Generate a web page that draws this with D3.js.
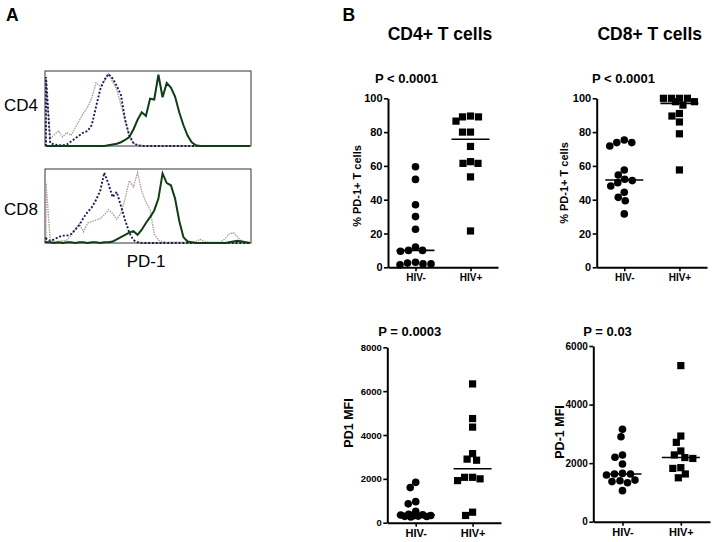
<!DOCTYPE html>
<html><head><meta charset="utf-8">
<script src="https://cdnjs.cloudflare.com/ajax/libs/d3/7.8.5/d3.min.js"></script>
<style>
body{margin:0;background:#fff}
svg{display:block}
text{font-family:Arial,"Liberation Sans",sans-serif;fill:#000}
</style>
</head><body>
<svg id="c" width="714" height="542"></svg>
<script>
// ---------------- DATA ----------------
const groups = ["HIV-", "HIV+"];

// Panel A: PD-1 histograms (relative counts per channel bin, 50 bins)
const cd4Control = [85,10,15,20,12,18,14,24,34,44,52,64,84,80,86,96,86,75,55,35,12,4,1,1,0,0,0,0,0,0,0,0,0,0,0,0,0,0,0,0,0,0,0,0,0,0,0,0,0,0];
const cd4HivNeg  = [92,4,2,1,1,2,6,10,14,18,20,28,52,75,88,96,90,80,68,35,14,4,1,0,0,0,0,0,0,0,0,0,0,0,0,0,0,0,0,0,0,0,0,0,0,0,0,0,0,0];
const cd4HivPos  = [0,0,0,0,0,0,0,0,0,0,0,0,0,0,0,1,2,3,5,8,12,22,35,45,40,63,62,95,65,84,78,66,45,28,14,5,1,0,0,0,0,0,0,0,0,0,0,0,0,0];
const cd8Control = [82,4,2,2,3,4,10,18,26,15,27,29,31,33,38,45,40,32,40,60,84,76,95,70,55,45,12,4,2,1,1,1,1,1,1,1,2,5,2,1,1,1,1,6,12,14,8,3,1,1];
const cd8HivNeg  = [6,3,5,8,10,10,12,18,24,34,42,48,58,70,95,80,62,69,50,31,14,4,1,0,0,0,0,0,0,0,0,0,0,0,0,0,0,0,0,0,0,0,0,0,0,0,0,0,0,0];
const cd8HivPos  = [1,1,0,1,0,1,1,0,1,1,0,1,1,0,1,1,2,5,8,11,14,16,11,18,27,35,44,60,94,81,78,60,30,8,2,1,0,0,0,0,0,0,0,0,1,2,3,2,1,0];

// Panel B: % PD-1+ T cells
const cd4PctNeg = [59.5,52,37,30,22.5,12,10,10,9.5,3,2.5,2,2,1.5];
const cd4PctPos = [89.5,89,89,86.5,80,80,71.5,62.5,61.5,61.5,53.5,21.5];
const cd8PctNeg = [75.3,73.8,73.8,71.8,57.6,54.6,52.1,51.3,50.1,48.1,44.4,41.4,39.4,31.6];
const cd8PctPos = [100,100,100,100,98,98,96,91,89.5,86,79,57.6];
// Panel B: PD-1 MFI
const cd4MfiNeg = [1840,1600,960,860,520,380,360,350,330,320,300,290,280,260];
const cd4MfiPos = [6330,4750,4360,3150,2900,2850,2070,2070,2000,1920,480,330];
const cd8MfiNeg = [3155,2900,2280,2200,1970,1650,1630,1630,1595,1420,1400,1370,1330,1060];
const cd8MfiPos = [5330,2925,2710,2415,2280,2190,2160,1845,1820,1630,1500];

const pctTicks = [0,20,40,60,80,100];
const cd4MfiTicks = [0,2000,4000,6000,8000];
const cd8MfiTicks = [0,2000,4000,6000];

// ---------------- DRAW ----------------
const svg = d3.select("#c");
const FONT = "Arial, 'Liberation Sans', sans-serif";

// Panel letters
svg.append("text").attr("x",6).attr("y",20.7).attr("font-size",17.5).attr("font-weight","bold").text("A");
svg.append("text").attr("x",342.5).attr("y",20.5).attr("font-size",17.5).attr("font-weight","bold").text("B");

// Histograms
function histogram(top, bottom, ctrl, neg, pos, label, labelY) {
  const g = svg.append("g");
  const x = d3.scaleLinear().domain([0, ctrl.length - 1]).range([46, 250]);
  const y = d3.scaleLinear().domain([0, 100]).range([bottom, top]);
  g.append("rect").attr("x",45).attr("y",top).attr("width",206).attr("height",bottom-top)
    .attr("fill","none").attr("stroke","#333").attr("stroke-width",1);
  const line = d3.line().x(d => x(d[0])).y(d => y(d[1]));
  const pts = arr => [[0,0]].concat(arr.map((v,i) => [i,v]));
  g.append("path").attr("d", line(pts(ctrl))).attr("fill","none")
    .attr("stroke","#b39c9c").attr("stroke-width",1.4).attr("stroke-dasharray","1.5,1");
  g.append("path").attr("d", line(pts(neg))).attr("fill","none")
    .attr("stroke","#1c1c55").attr("stroke-width",1.9).attr("stroke-dasharray","2,1.8");
  g.append("path").attr("d", line(pts(pos))).attr("fill","none")
    .attr("stroke","#0f3d14").attr("stroke-width",2);
  svg.append("text").attr("x",4).attr("y",labelY).attr("font-size",17).text(label);
}
histogram(71, 146, cd4Control, cd4HivNeg, cd4HivPos, "CD4", 110.7);
histogram(169, 243, cd8Control, cd8HivNeg, cd8HivPos, "CD8", 215);
svg.append("text").attr("x",146).attr("y",266.7).attr("text-anchor","middle").attr("font-size",17).text("PD-1");

// Column titles
svg.append("text").attr("x",440).attr("y",40).attr("text-anchor","middle").attr("font-size",17.5).attr("font-weight","bold").text("CD4+ T cells");
svg.append("text").attr("x",649.7).attr("y",40).attr("text-anchor","middle").attr("font-size",17.5).attr("font-weight","bold").text("CD8+ T cells");

// deterministic dot-plot spreading (capped beeswarm)
function swarm(vals, cx, y, diam, cap) {
  const placed = [];
  const order = vals.map((v,i)=>({v,i})).sort((a,b)=>b.v-a.v);
  const cands = [0];
  for (let s=1; s*0.5<=cap; s++) { cands.push(-s*0.5, s*0.5); }
  order.forEach(p => {
    const py = y(p.v);
    let best = null, bestD = -1;
    for (const dx of cands) {
      const dmin = placed.length ? d3.min(placed, q => Math.hypot(dx-q.dx, py-q.py)) : Infinity;
      if (dmin >= diam) { best = dx; bestD = Infinity; break; }
      if (dmin > bestD + 0.01) { bestD = dmin; best = dx; }
    }
    placed.push({dx:best, py});
  });
  return placed.map(p => ({x: cx + p.dx, y: p.py}));
}

const panels = [
  {neg:cd4PctNeg, pos:cd4PctPos, ticks:pctTicks, x0:388, x1:498, yTop:98.3, yBot:267.3,
   ylab:"% PD-1+ T cells", ylabX:360.5, ylabY:186, ylabFs:11, p:"P < 0.0001", pX:375, pY:82.7, tickFs:11, xFs:10},
  {neg:cd8PctNeg, pos:cd8PctPos, ticks:pctTicks, x0:596.7, x1:707, yTop:98.3, yBot:267.3,
   ylab:"% PD-1+ T cells", ylabX:568.3, ylabY:183, ylabFs:11, p:"P < 0.0001", pX:592, pY:82.7, tickFs:11, xFs:10},
  {neg:cd4MfiNeg, pos:cd4MfiPos, ticks:cd4MfiTicks, x0:387.3, x1:501, yTop:347.3, yBot:522.7,
   ylab:"PD1 MFI", ylabX:353, ylabY:423, ylabFs:12.5, p:"P = 0.0003", pX:378.3, pY:336, tickFs:9.5, xFs:11},
  {neg:cd8MfiNeg, pos:cd8MfiPos, ticks:cd8MfiTicks, x0:593.3, x1:710, yTop:346, yBot:521.7,
   ylab:"PD-1 MFI", ylabX:564, ylabY:432, ylabFs:12.5, p:"P = 0.03", pX:583.3, pY:336, tickFs:10, xFs:11}
];

panels.forEach(P => {
  const g = svg.append("g");
  const y = d3.scaleLinear().domain([0, d3.max(P.ticks)]).range([P.yBot, P.yTop]);
  const x = d3.scalePoint().domain(groups).range([P.x0, P.x1]).padding(0.5);

  const ya = g.append("g").attr("transform",`translate(${P.x0},0)`)
    .call(d3.axisLeft(y).tickValues(P.ticks).tickFormat(d3.format("d")).tickSize(4).tickSizeOuter(0).tickPadding(1.5));
  ya.select(".domain").attr("stroke","#000").attr("stroke-width",2);
  ya.selectAll(".tick line").attr("stroke","#000").attr("stroke-width",1.6);
  ya.selectAll(".tick text").attr("font-size",P.tickFs).attr("font-weight","bold")
    .attr("font-family",FONT).attr("fill","#000");

  const xa = g.append("g").attr("transform",`translate(0,${P.yBot})`)
    .call(d3.axisBottom(x).tickSize(4).tickSizeOuter(0).tickPadding(3));
  xa.select(".domain").attr("stroke","#000").attr("stroke-width",2);
  xa.selectAll(".tick line").attr("stroke","#000").attr("stroke-width",1.6);
  xa.selectAll(".tick text").attr("font-size",P.xFs).attr("font-weight","bold")
    .attr("font-family",FONT).attr("fill","#000");

  // points
  const negPts = swarm(P.neg, x("HIV-"), y, 7.6, 17);
  g.selectAll("circle.pt").data(negPts).join("circle").attr("class","pt")
    .attr("cx",d=>d.x).attr("cy",d=>d.y).attr("r",3.8).attr("fill","#000");
  const posPts = swarm(P.pos, x("HIV+"), y, 7.6, 17);
  g.selectAll("rect.pt").data(posPts).join("rect").attr("class","pt")
    .attr("x",d=>d.x-3.6).attr("y",d=>d.y-3.6).attr("width",7.2).attr("height",7.2).attr("fill","#000");

  // medians
  [[P.neg,"HIV-"],[P.pos,"HIV+"]].forEach(([vals,k]) => {
    const m = d3.median(vals);
    g.append("line").attr("x1",x(k)-19).attr("x2",x(k)+19).attr("y1",y(m)).attr("y2",y(m))
      .attr("stroke","#000").attr("stroke-width",1.6);
  });

  g.append("text").attr("transform",`translate(${P.ylabX},${P.ylabY}) rotate(-90)`)
    .attr("text-anchor","middle").attr("font-size",P.ylabFs).attr("font-weight","bold").text(P.ylab);
  g.append("text").attr("x",P.pX).attr("y",P.pY).attr("font-size",13).attr("font-weight","bold").text(P.p);
});
</script>
</body></html>
